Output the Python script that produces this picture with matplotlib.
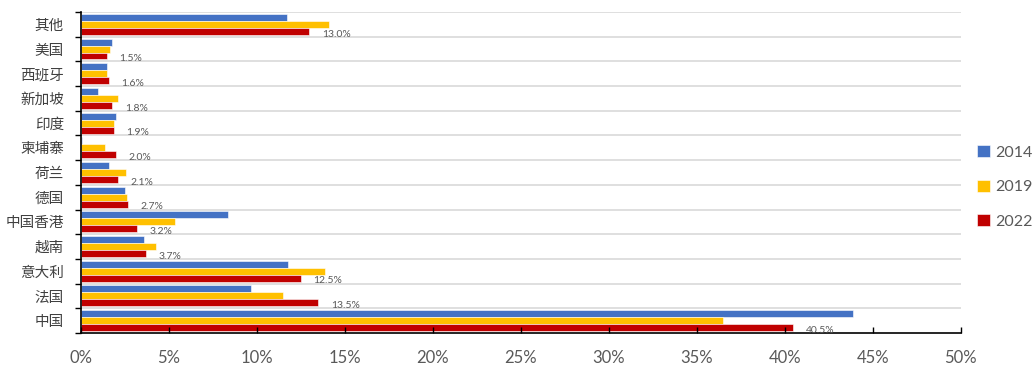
import matplotlib.pyplot as plt
import numpy as np

plt.rcParams['font.family'] = ['Noto Sans CJK SC', 'DejaVu Sans']
num_font = ['Lato', 'DejaVu Sans']

# categories from bottom to top
cats = ['中国', '法国', '意大利', '越南', '中国香港', '德国', '荷兰',
        '柬埔寨', '印度', '新加坡', '西班牙', '美国', '其他']
v2014 = [43.9, 9.7, 11.8, 3.6, 8.35, 2.5, 1.6, 0.05, 2.0, 1.0, 1.5, 1.8, 11.7]
v2019 = [36.5, 11.5, 13.9, 4.3, 5.35, 2.65, 2.6, 1.4, 1.9, 2.1, 1.5, 1.65, 14.1]
v2022 = [40.5, 13.5, 12.5, 3.7, 3.2, 2.7, 2.1, 2.0, 1.9, 1.8, 1.6, 1.5, 13.0]
labels2022 = ['40.5%', '13.5%', '12.5%', '3.7%', '3.2%', '2.7%', '2.1%',
              '2.0%', '1.9%', '1.8%', '1.6%', '1.5%', '13.0%']

fig = plt.figure(figsize=(10.34, 3.67), dpi=100)
ax = fig.add_axes([0.078, 0.093, 0.851, 0.874])

y = np.arange(len(cats))
h = 0.28
ax.barh(y + h, v2014, height=h, color='#4472C4', edgecolor='white', linewidth=0.4, label='2014')
ax.barh(y, v2019, height=h, color='#FFC000', edgecolor='white', linewidth=0.4, label='2019')
ax.barh(y - h, v2022, height=h, color='#C00000', edgecolor='white', linewidth=0.4, label='2022')

for yi, v, s in zip(y, v2022, labels2022):
    ax.annotate(s, (v, yi - h), xytext=(9, -2), textcoords='offset points',
                va='center', ha='left', fontsize=7.5, color='#595959', family=num_font)

# gridlines between categories
for b in np.arange(-0.5, len(cats), 1.0)[1:]:
    ax.axhline(b, color='#D9D9D9', linewidth=1.2, zorder=0)

ax.set_xlim(0, 50)
ax.set_ylim(-0.5, len(cats) - 0.5)
ax.set_xticks(np.arange(0, 51, 5))
ax.set_xticklabels([f'{t}%' for t in range(0, 51, 5)], fontsize=12, color='#595959',
                   family=num_font)
ax.set_yticks(y)
ax.set_yticklabels(cats, fontsize=10.5, color='#404040')
ax.set_yticks(np.arange(-0.5, len(cats), 1.0), minor=True)
ax.tick_params(axis='y', which='major', length=0, pad=12)
ax.tick_params(axis='y', which='minor', length=4, direction='out', width=1)
ax.tick_params(axis='x', which='major', length=4, direction='in', width=1, pad=12)

for sp in ['top', 'right']:
    ax.spines[sp].set_visible(False)
ax.spines['left'].set_linewidth(1.2)
ax.spines['bottom'].set_linewidth(1.2)

ax.legend(loc='center left', bbox_to_anchor=(1.019, 0.455), frameon=False,
          borderaxespad=0, borderpad=0, handlelength=0.8, handleheight=0.8,
          labelspacing=1.25, labelcolor='#595959', handletextpad=0.35,
          prop={'family': num_font, 'size': 11.5})

fig.savefig('out.png', dpi=100)
